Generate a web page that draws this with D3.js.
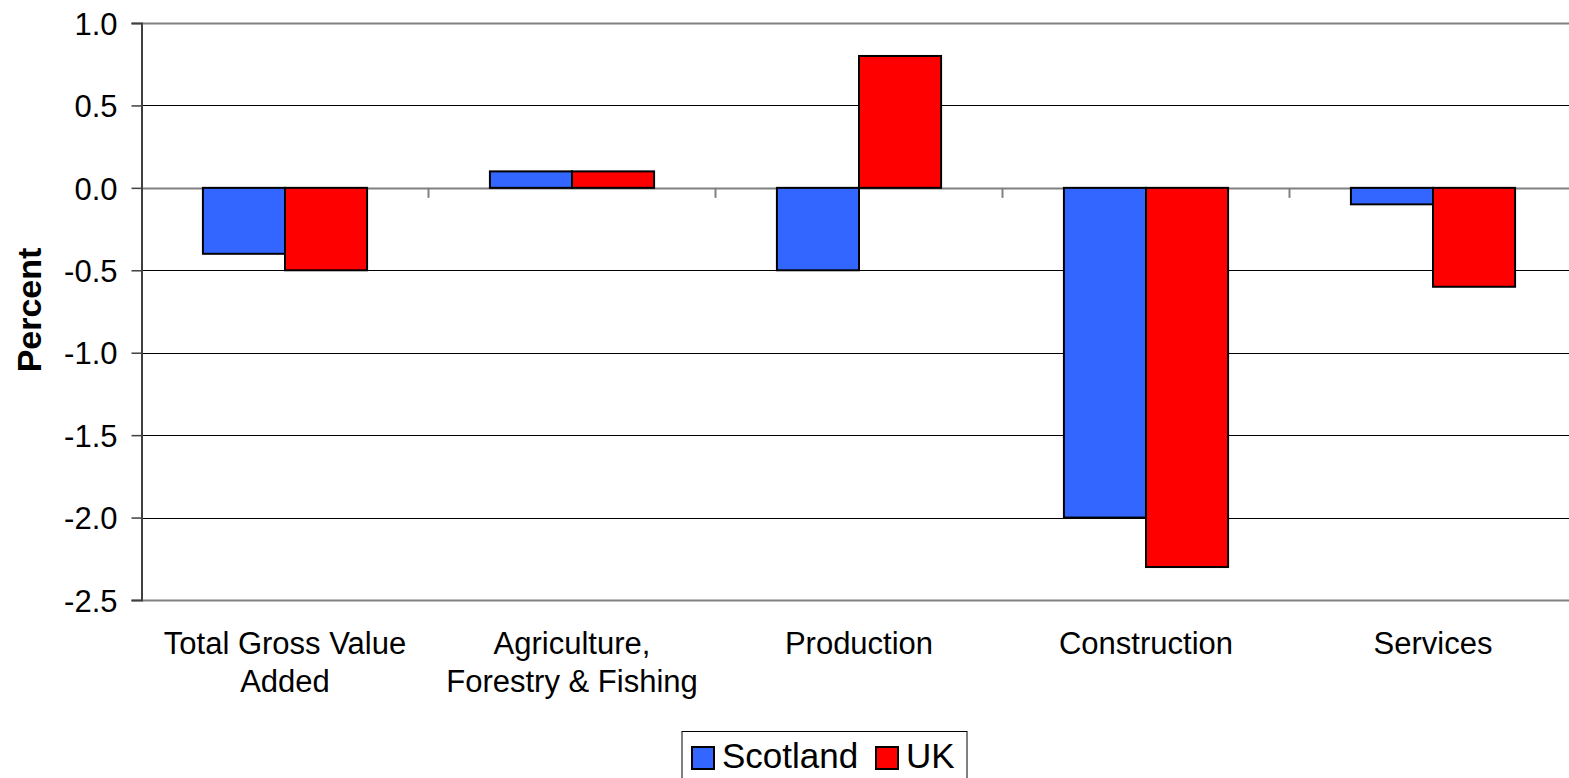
<!DOCTYPE html>
<html>
<head>
<meta charset="utf-8">
<script src="https://cdn.jsdelivr.net/npm/d3@7"></script>
<style>
  html, body { margin: 0; padding: 0; background: #fff; overflow: hidden; }
  svg { display: block; font-family: Arial, "Liberation Sans", sans-serif; }
</style>
</head>
<body>
<svg id="chart" width="1569" height="778"></svg>
<script>
// Growth by industry sector, percent
const categories = [
  ["Total Gross Value", "Added"],
  ["Agriculture,", "Forestry & Fishing"],
  ["Production"],
  ["Construction"],
  ["Services"]
];
const seriesNames = ["Scotland", "UK"];
const scotland = [-0.4, 0.1, -0.5, -2.0, -0.1];
const uk = [-0.5, 0.1, 0.8, -2.3, -0.6];
const yTicks = [1.0, 0.5, 0.0, -0.5, -1.0, -1.5, -2.0, -2.5];
const colors = ["#3366FF", "#FF0000"];

const svg = d3.select("#chart");
const plot = { left: 141.5, right: 1576.5, top: 23, bottom: 600 };

const x = d3.scaleBand()
  .domain(d3.range(categories.length))
  .range([plot.left, plot.right])
  .paddingInner(0).paddingOuter(0);

const barW = x.bandwidth() * 0.286;

const y = d3.scaleLinear()
  .domain([-2.5, 1.0])
  .range([plot.bottom, plot.top]);

// Tick labels with a plain hyphen for negatives
const fmt = v => d3.format(".1f")(v).replace("\u2212", "-");

// Horizontal gridlines
const frame = d => d === 1.0 || d === -2.5 || d === 0;
svg.append("g")
  .selectAll("line")
  .data(yTicks)
  .join("line")
  .attr("x1", plot.left).attr("x2", plot.right)
  .attr("y1", d => Math.round(y(d)) + 0.5).attr("y2", d => Math.round(y(d)) + 0.5)
  .attr("stroke", d => frame(d) ? "#808080" : "#000")
  .attr("stroke-width", d => frame(d) ? 2 : 1);

// Category separators on the zero line
svg.append("g")
  .selectAll("line")
  .data(d3.range(1, categories.length))
  .join("line")
  .attr("x1", d => x(d)).attr("x2", d => x(d))
  .attr("y1", y(0)).attr("y2", y(0) + 10)
  .attr("stroke", "#808080").attr("stroke-width", 2);

// Bars
const rows = categories.map((c, i) => ({ i, vals: [scotland[i], uk[i]] }));
const groups = svg.append("g").selectAll("g")
  .data(rows)
  .join("g");

groups.selectAll("rect")
  .data(d => d.vals.map((v, s) => ({ i: d.i, s, v })))
  .join("rect")
  .attr("x", d => x(d.i) + x.bandwidth() / 2 - barW + d.s * barW)
  .attr("width", barW)
  .attr("y", d => y(Math.max(0, d.v)))
  .attr("height", d => Math.abs(y(d.v) - y(0)))
  .attr("fill", d => colors[d.s])
  .attr("stroke", "#000")
  .attr("stroke-width", 2);

// Y axis
const yAxis = svg.append("g")
  .attr("transform", `translate(${plot.left},0)`)
  .call(d3.axisLeft(y).tickValues(yTicks).tickFormat(fmt).tickSize(10).tickPadding(14));
yAxis.select(".domain").attr("stroke", "#404040").attr("stroke-width", 2);
yAxis.selectAll(".tick line").attr("stroke", "#404040").attr("stroke-width", 1.5);
yAxis.selectAll(".tick text")
  .attr("font-size", 31).attr("fill", "#000")
  .attr("font-family", "Arial, 'Liberation Sans', sans-serif")
  .attr("dy", "0.36em");

// Y axis title
svg.append("text")
  .attr("transform", `translate(41,310) rotate(-90)`)
  .attr("text-anchor", "middle")
  .attr("font-size", 34).attr("font-weight", "bold")
  .text("Percent");

// Category labels
const catLabels = svg.append("g").selectAll("text")
  .data(categories)
  .join("text")
  .attr("text-anchor", "middle")
  .attr("font-size", 31)
  .attr("x", (d, i) => x(i) + x.bandwidth() / 2)
  .attr("y", 654);
catLabels.selectAll("tspan")
  .data(d => d)
  .join("tspan")
  .attr("x", function () { return d3.select(this.parentNode).attr("x"); })
  .attr("dy", (d, k) => k === 0 ? 0 : 38)
  .text(d => d);

// Legend
const legend = svg.append("g");
legend.append("rect")
  .attr("x", 682).attr("y", 731.5).attr("width", 285).attr("height", 60)
  .attr("fill", "#fff").attr("stroke", "#000").attr("stroke-width", 1);
const legX = [692, 876];
const items = legend.selectAll("g.item")
  .data(seriesNames)
  .join("g").attr("class", "item");
items.append("rect")
  .attr("x", (d, i) => legX[i]).attr("y", 747)
  .attr("width", 22).attr("height", 22)
  .attr("fill", (d, i) => colors[i]).attr("stroke", "#000").attr("stroke-width", 2);
items.append("text")
  .attr("x", (d, i) => legX[i] + 30).attr("y", 768)
  .attr("font-size", 35)
  .text(d => d);
</script>
</body>
</html>
